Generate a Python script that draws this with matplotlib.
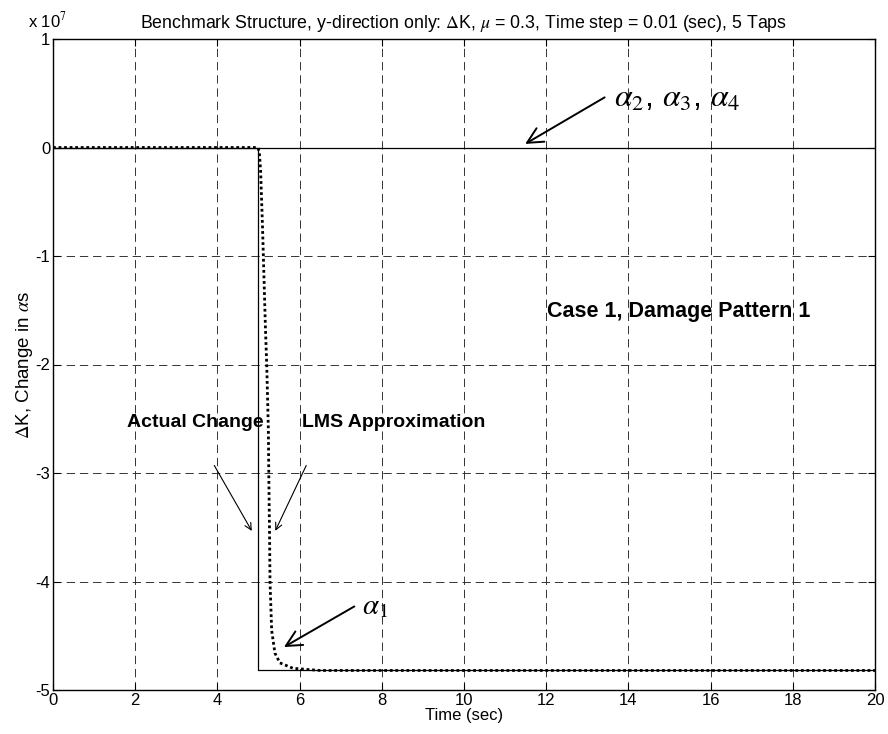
import numpy as np
import matplotlib
matplotlib.use('Agg')
import matplotlib.pyplot as plt
from matplotlib.ticker import FuncFormatter

plt.rcParams['font.family'] = ['Liberation Sans', 'DejaVu Sans']
plt.rcParams['lines.scale_dashes'] = False
plt.rcParams['mathtext.fontset'] = 'stix'

# actual change of alpha_1 (step at t = 5 s)
t_actual = [0, 4.99, 4.99, 20]
dk_actual = [0, 0, -4.82e7, -4.82e7]

# alpha_2, alpha_3, alpha_4 stay at zero
t_zero = [0, 20]
dk_zero = [0, 0]

# LMS approximation of alpha_1
t_lms = [0, 4.99, 5.02, 5.05, 5.10, 5.17, 5.20, 5.24, 5.25, 5.27, 5.28,
         5.32, 5.40, 5.52, 5.84, 6.5, 20]
dk_lms = [0, 0, -0.05e7, -0.2e7, -0.76e7, -1.68e7, -2.0e7, -2.6e7, -3.0e7,
          -3.6e7, -4.0e7, -4.45e7, -4.66e7, -4.75e7, -4.80e7, -4.82e7, -4.82e7]

fig = plt.figure(figsize=(8.88, 7.34), dpi=100)
ax = fig.add_axes([53/888, 1-690/734, 822/888, 651/734])

ax.plot(t_zero, dk_zero, color='k', lw=0.9)
ax.plot(t_actual, dk_actual, color='k', lw=0.9)
ax.plot(t_lms, dk_lms, color='k', lw=2.0, linestyle=(0, (2, 2)))

ax.set_xlim(0, 20)
ax.set_ylim(-5e7, 1e7)
ax.set_xticks(np.arange(0, 21, 2))
ax.set_yticks(np.arange(-5e7, 1.1e7, 1e7))
ax.yaxis.set_major_formatter(FuncFormatter(lambda v, p: '%d' % round(v/1e7)))
ax.grid(True, color='0.2', lw=0.7, linestyle=(0, (6, 3.5)))
ax.tick_params(direction='in', top=True, right=True, labelsize=12, length=5, pad=2)
for s in ax.spines.values():
    s.set_linewidth(1.0)

ax.set_title(r'Benchmark Structure, y-direction only: $\Delta$K, $\mu$ = 0.3, Time step = 0.01 (sec), 5 Taps',
             fontsize=12.8, pad=8)
ax.set_xlabel('Time (sec)', fontsize=12, labelpad=0.5)
ax.set_ylabel(r'$\Delta$K, Change in $\alpha$s', fontsize=13.5, labelpad=0)
fig.text(28/888, 1-20/734, r'x 10$^7$', fontsize=12, va='center')

# annotations
ax.annotate('', xy=(11.43, 0.02e7), xytext=(13.48, 0.475e7),
            arrowprops=dict(arrowstyle='->', lw=1.4, color='k', mutation_scale=28))
ax.text(13.65, 0.45e7, r'$\alpha_2$, $\alpha_3$, $\alpha_4$', fontsize=23, va='center')

ax.text(12.01, -1.51e7, 'Case 1, Damage Pattern 1', fontsize=15.5, fontweight='bold', va='center')

ax.text(1.80, -2.53e7, 'Actual Change', fontsize=14, fontweight='bold', va='center')
ax.annotate('', xy=(4.87, -3.556e7), xytext=(3.89, -2.908e7),
            arrowprops=dict(arrowstyle='->', lw=0.8, color='k', mutation_scale=12))
ax.text(6.06, -2.53e7, 'LMS Approximation', fontsize=14, fontweight='bold', va='center')
ax.annotate('', xy=(5.38, -3.556e7), xytext=(6.19, -2.908e7),
            arrowprops=dict(arrowstyle='->', lw=0.8, color='k', mutation_scale=12))

ax.annotate('', xy=(5.56, -4.617e7), xytext=(7.39, -4.217e7),
            arrowprops=dict(arrowstyle='->', lw=1.4, color='k', mutation_scale=28))
ax.text(7.51, -4.23e7, r'$\alpha_1$', fontsize=21, va='center')

fig.savefig('out.png', dpi=100)
